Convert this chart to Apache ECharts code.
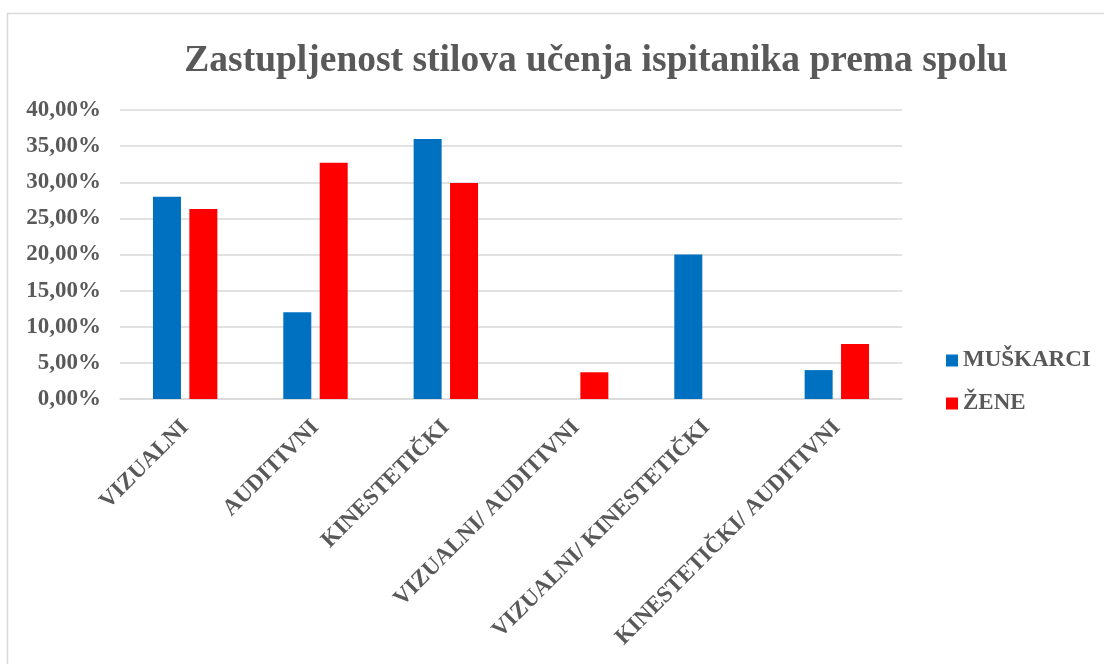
<!DOCTYPE html>
<html>
<head>
<meta charset="utf-8">
<script src="https://cdn.jsdelivr.net/npm/echarts@6/dist/echarts.min.js"></script>
<style>
    html, body { margin: 0; padding: 0; background: #fff; }
    #chart { width: 1104px; height: 664px; }
</style>
</head>
<body>
<div id="chart"></div>
<script>
    // kategorije (stilovi učenja)
    var categories = ['VIZUALNI', 'AUDITIVNI', 'KINESTETIČKI', 'VIZUALNI/ AUDITIVNI', 'VIZUALNI/ KINESTETIČKI', 'KINESTETIČKI/ AUDITIVNI'];
    // postoci po spolu
    var muskarci = [28.0, 12.0, 36.0, 0, 20.0, 4.0];
    var zene = [26.3, 32.7, 29.9, 3.7, 0, 7.6];
    var yTicks = [0, 5, 10, 15, 20, 25, 30, 35, 40];

    var font = '"Liberation Serif", "Times New Roman", serif';
    var grey = '#595959';

    var chart = echarts.init(document.getElementById('chart'));
    chart.setOption({
        animation: false,
        title: {
            text: 'Zastupljenost stilova učenja ispitanika prema spolu',
            left: 591,
            top: 37,
            textAlign: 'center',
            textStyle: {
                fontFamily: font,
                fontWeight: 'bold',
                fontSize: 37.5,
                color: grey
            }
        },
        graphic: [{
            type: 'rect',
            shape: { x: 7.5, y: 13.5, width: 1200, height: 700 },
            style: { fill: 'none', stroke: '#d9d9d9', lineWidth: 1.5 },
            silent: true
        }],
        legend: {
            orient: 'vertical',
            left: 941,
            top: 344,
            itemWidth: 12,
            itemHeight: 12,
            itemGap: 20,
            icon: 'rect',
            textStyle: {
                fontFamily: font,
                fontWeight: 'bold',
                fontSize: 23,
                color: grey
            },
            data: ['MUŠKARCI', 'ŽENE']
        },
        grid: {
            left: 120,
            right: 202,
            top: 110,
            bottom: 265
        },
        xAxis: {
            type: 'category',
            data: categories,
            axisLine: { lineStyle: { color: '#d9d9d9', width: 1.5 } },
            axisTick: { show: false },
            axisLabel: {
                rotate: 45,
                margin: 25,
                interval: 0,
                fontFamily: font,
                fontWeight: 'bold',
                fontSize: 23,
                color: grey
            }
        },
        yAxis: {
            type: 'value',
            min: yTicks[0],
            max: yTicks[yTicks.length - 1],
            interval: 5,
            axisLine: { show: false },
            axisTick: { show: false },
            splitLine: { lineStyle: { color: '#d9d9d9', width: 1.5 } },
            axisLabel: {
                margin: 19,
                fontFamily: font,
                fontWeight: 'bold',
                fontSize: 23,
                color: grey,
                formatter: function (v) { return v.toFixed(2).replace('.', ',') + '%'; }
            }
        },
        series: [
            {
                name: 'MUŠKARCI',
                type: 'bar',
                data: muskarci,
                barWidth: 28,
                barGap: '30%',
                itemStyle: { color: '#0070C0' }
            },
            {
                name: 'ŽENE',
                type: 'bar',
                data: zene,
                barWidth: 28,
                itemStyle: { color: '#FF0000' }
            }
        ]
    });
</script>
</body>
</html>
